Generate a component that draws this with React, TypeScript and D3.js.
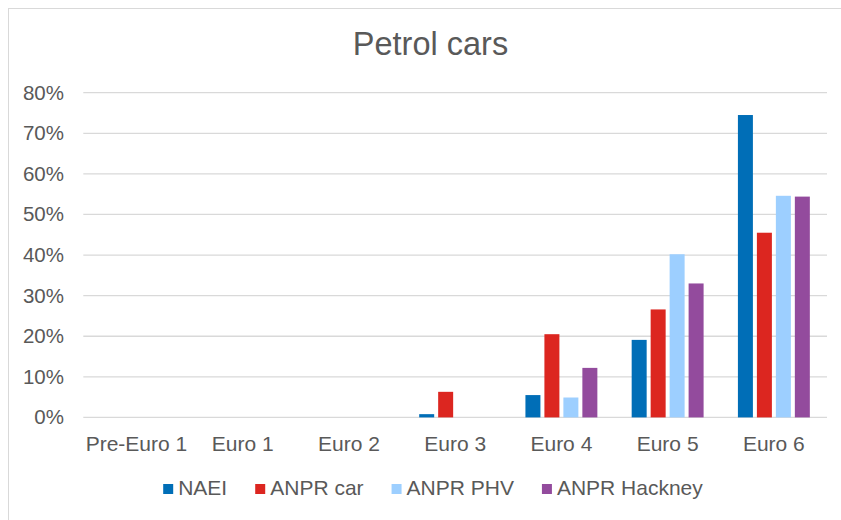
import React from "react";
import * as d3 from "d3";

// categories and series
const categories = ["Pre-Euro 1", "Euro 1", "Euro 2", "Euro 3", "Euro 4", "Euro 5", "Euro 6"];
const seriesNames = ["NAEI", "ANPR car", "ANPR PHV", "ANPR Hackney"];
const naei = [0, 0, 0, 0.008, 0.055, 0.191, 0.745];
const anprCar = [0, 0, 0, 0.063, 0.205, 0.266, 0.455];
const anprPhv = [0, 0, 0, 0, 0.049, 0.402, 0.546];
const anprHackney = [0, 0, 0, 0, 0.122, 0.33, 0.544];
const yTicks = [0, 0.1, 0.2, 0.3, 0.4, 0.5, 0.6, 0.7, 0.8];
const colors = ["#006EB7", "#DC2620", "#9DCFFF", "#934B9D"];

const W = 841;
const H = 520;
const margin = { top: 92.7, right: 14, bottom: 102.6, left: 83.3 };
const font = "'Liberation Sans', Arial, sans-serif";
const textColor = "#595959";

const measure = (txt: string, size: number) => {
  const ctx = document.createElement("canvas").getContext("2d");
  if (!ctx) return txt.length * size * 0.55;
  ctx.font = `${size}px 'Liberation Sans', Arial`;
  return ctx.measureText(txt).width;
};

const App = () => {
  const allSeries = [naei, anprCar, anprPhv, anprHackney];
  const plotW = W - margin.left - margin.right;
  const plotBottom = H - margin.bottom;

  const x0 = d3
    .scaleBand<string>()
    .domain(categories)
    .range([margin.left, margin.left + plotW])
    .paddingInner(0.323)
    .paddingOuter(0.1615);
  const x1 = d3
    .scaleBand<string>()
    .domain(seriesNames)
    .range([0, x0.bandwidth()])
    .paddingInner(0.21);
  const y = d3.scaleLinear().domain([0, 0.8]).range([plotBottom, margin.top]);
  const pct = d3.format(".0%");

  // legend layout
  const legendSize = 21;
  const sq = 10;
  const widths = seriesNames.map((s) => measure(s, legendSize));
  const itemW = widths.map((w) => sq + 5 + w);
  const gap = 28;
  const totalW = d3.sum(itemW) + gap * (seriesNames.length - 1);
  let lx = 433 - totalW / 2;
  const legendItems = seriesNames.map((s, i) => {
    const item = { name: s, x: lx, color: colors[i] };
    lx += itemW[i] + gap;
    return item;
  });

  return (
    <svg
      width={W}
      height={H}
      style={{ position: "absolute", left: 0, top: 0, background: "#fff" }}
      fontFamily={font}
    >
      <rect x={8.5} y={8.5} width={860} height={540} fill="#fff" stroke="#d9d9d9" strokeWidth={1} />
      <text x={430.5} y={55} textAnchor="middle" fontSize={32.5} fill={textColor}>
        Petrol cars
      </text>
      {yTicks.map((t) => (
        <g key={t}>
          <line
            x1={margin.left}
            x2={margin.left + plotW}
            y1={y(t)}
            y2={y(t)}
            stroke="#d9d9d9"
            strokeWidth={1.3}
          />
          <text x={64} y={y(t) + 7} textAnchor="end" fontSize={20.5} fill={textColor}>
            {pct(t)}
          </text>
        </g>
      ))}
      {categories.map((c, ci) => (
        <g key={c} transform={`translate(${x0(c)},0)`}>
          {allSeries.map((vals, si) =>
            vals[ci] > 0 ? (
              <rect
                key={si}
                x={x1(seriesNames[si])}
                y={y(vals[ci])}
                width={x1.bandwidth()}
                height={y(0) - y(vals[ci])}
                fill={colors[si]}
              />
            ) : null
          )}
          <text
            x={x0.bandwidth() / 2}
            y={451}
            textAnchor="middle"
            fontSize={21}
            fill={textColor}
          >
            {c}
          </text>
        </g>
      ))}
      {legendItems.map((it) => (
        <g key={it.name}>
          <rect x={it.x} y={484} width={sq} height={sq} fill={it.color} />
          <text x={it.x + sq + 5} y={495} fontSize={legendSize} fill={textColor}>
            {it.name}
          </text>
        </g>
      ))}
    </svg>
  );
};

export default App;
